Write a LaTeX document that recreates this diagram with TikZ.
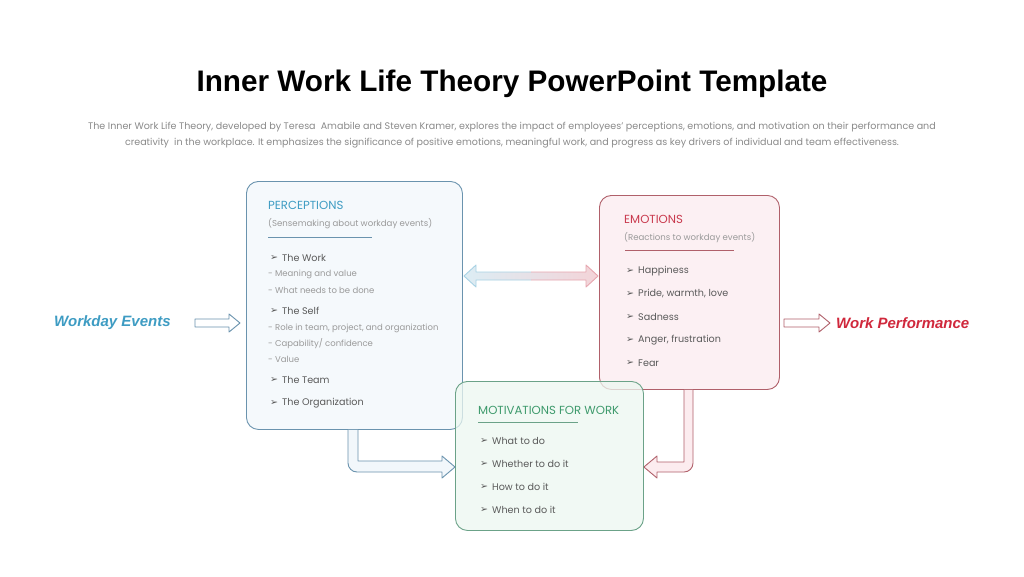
\documentclass[tikz,border=0pt]{standalone}
\usepackage{fontspec}
\setmainfont{Poppins}
\newfontfamily\titlefont{Liberation Sans}
\newfontfamily\symfont{DejaVu Sans}
\definecolor{pblue}{HTML}{3E9CC3}
\definecolor{pblueb}{HTML}{6A93AE}
\definecolor{pbluef}{HTML}{F2F7FB}
\definecolor{ered}{HTML}{C93A4E}
\definecolor{eredb}{HTML}{B0606A}
\definecolor{eredf}{HTML}{FCECEF}
\definecolor{wpred}{HTML}{D0283C}
\definecolor{mgreen}{HTML}{3E9A6C}
\definecolor{mgreenb}{HTML}{6BA288}
\definecolor{mgreenf}{HTML}{EDF8F1}
\definecolor{txt}{HTML}{5A5A5A}
\definecolor{subtxt}{HTML}{9A9A9A}
\definecolor{desc}{HTML}{8A8A8A}
\tikzset{
  box/.style={rounded corners=12, line width=0.9, fill opacity=0.75, text opacity=1, minimum width=#1, anchor=north west, inner sep=0},
  hdr/.style={anchor=west, inner sep=0, font=\fontsize{11.7}{13}\selectfont},
  paren/.style={anchor=west, inner sep=0, text=subtxt, font=\fontsize{8.6}{10}\selectfont},
  item/.style={anchor=west, inner sep=0, text=txt, font=\fontsize{9.6}{11}\selectfont},
  sub/.style={anchor=west, inner sep=0, text=subtxt, font=\fontsize{8.5}{10}\selectfont},
  bul/.style={anchor=west, inner sep=0, text=txt, font=\symfont\fontsize{9.5}{10}\selectfont},
  uline/.style={line width=0.8},
  side/.style={inner sep=0, font=\titlefont\bfseries\itshape\fontsize{15}{17}\selectfont},
  descr/.style={inner sep=0, text=desc, font=\fontsize{9.55}{11}\selectfont},
  flat/.style={line width=0.9, line join=round},
}
\newcommand\itm[4]{\node[bul] (#1b) at (#2,#3) {➢}; \node[item] (#1) at (#2+12,#3) {#4};}
\begin{document}
\begin{tikzpicture}[x=1pt,y=-1pt]
\useasboundingbox (0,0) rectangle (1024,576);
\fill[white] (0,0) rectangle (1024,576);

% title and description
\node[inner sep=0, font=\titlefont\bfseries\fontsize{29.7}{32}\selectfont] (title) at (512,84) {Inner Work Life Theory PowerPoint Template};
\node[descr] (d1) at (512,127) {The Inner Work Life Theory, developed by Teresa\ \ Amabile and Steven Kramer,\ explores the impact\ of employees'\ perceptions,\ emotions,\ and motivation on their performance and};
\node[descr] (d2) at (512,143) {creativity\ \ in the workplace. It emphasizes\ the significance of positive emotions, meaningful work, and progress\ as key drivers of individual and team effectiveness.};

% boxes
\node[box=216, minimum height=248, draw=pblueb, fill=pbluef] (perc) at (246,181) {};
\node[box=180, minimum height=194, draw=eredb, fill=eredf] (emo) at (599,195) {};
\node[box=188, minimum height=149, draw=mgreenb, fill=mgreenf] (mot) at (455,381) {};

% perceptions content
\node[hdr, text=pblue] (ph) at (268,205) {PERCEPTIONS};
\node[paren] (pp) at (268,224) {(Sensemaking about workday events)};
\draw[uline, pblueb] (268,237) -- (372,237);
\itm{p1}{270}{258}{The Work}
\node[sub] (p1a) at (268,274) {- Meaning and value};
\node[sub] (p1b) at (268,290) {- What needs to be done};
\itm{p2}{270}{311}{The Self}
\node[sub] (p2a) at (268,328) {- Role in team, project, and organization};
\node[sub] (p2b) at (268,344) {- Capability/ confidence};
\node[sub] (p2c) at (268,359) {- Value};
\itm{p3}{270}{380}{The Team}
\itm{p4}{270}{403}{The Organization}

% emotions content
\node[hdr, text=ered] (eh) at (624,219) {EMOTIONS};
\node[paren] (ep) at (624,238) {(Reactions to workday events)};
\draw[uline, eredb] (625,250) -- (734,250);
\itm{e1}{626}{271}{Happiness}
\itm{e2}{626}{294}{Pride, warmth, love}
\itm{e3}{626}{317}{Sadness}
\itm{e4}{626}{340}{Anger, frustration}
\itm{e5}{626}{363}{Fear}

% motivations content
\node[hdr, text=mgreen] (mh) at (478,410) {MOTIVATIONS FOR WORK};
\draw[uline, mgreenb] (478,422) -- (578,422);
\itm{m1}{480}{441}{What to do}
\itm{m2}{480}{464}{Whether to do it}
\itm{m3}{480}{487}{How to do it}
\itm{m4}{480}{510}{When to do it}

% side labels
\node[side, text=pblue, anchor=west] (we) at (54,323) {Workday Events};
\node[side, text=wpred, anchor=west] (wp) at (836,323) {Work Performance};

% side arrows
\draw[flat, pblueb, fill=white] (195,319) -- (229,319) -- (229,314) -- (240,323) -- (229,332) -- (229,327) -- (195,327) -- cycle;
\draw[flat, eredb, fill=white] (784,319) -- (819,319) -- (819,314) -- (830,323) -- (819,332) -- (819,327) -- (784,327) -- cycle;

% double arrow between perceptions and emotions
\path[left color=pblue!18, right color=ered!22] (464,276) -- (476,265) -- (476,272) -- (586,272) -- (586,265) -- (598,276) -- (586,287) -- (586,280) -- (476,280) -- (476,287) -- cycle;
\begin{scope}
\clip (460,250) rectangle (531,300);
\draw[flat, pblue!45] (464,276) -- (476,265) -- (476,272) -- (586,272) -- (586,265) -- (598,276) -- (586,287) -- (586,280) -- (476,280) -- (476,287) -- cycle;
\end{scope}
\begin{scope}
\clip (531,250) rectangle (602,300);
\draw[flat, ered!45] (464,276) -- (476,265) -- (476,272) -- (586,272) -- (586,265) -- (598,276) -- (586,287) -- (586,280) -- (476,280) -- (476,287) -- cycle;
\end{scope}

% bent arrow perceptions -> motivations
\draw[flat, pblueb, fill=pbluef] (perc.south -| 348,0) [rounded corners=9] -- (348,472) [sharp corners] -- (442,472) -- (442,478) -- (mot.west |- 0,467) -- (442,456) -- (442,461) -- (358,461) -- (perc.south -| 358,0);

% bent arrow emotions -> motivations
\draw[flat, eredb, fill=eredf] (emo.south -| 693,0) [rounded corners=9] -- (693,472) [sharp corners] -- (657,472) -- (657,478) -- (mot.east |- 0,467) -- (657,456) -- (657,462) -- (684,462) -- (emo.south -| 684,0);
\end{tikzpicture}
\end{document}
